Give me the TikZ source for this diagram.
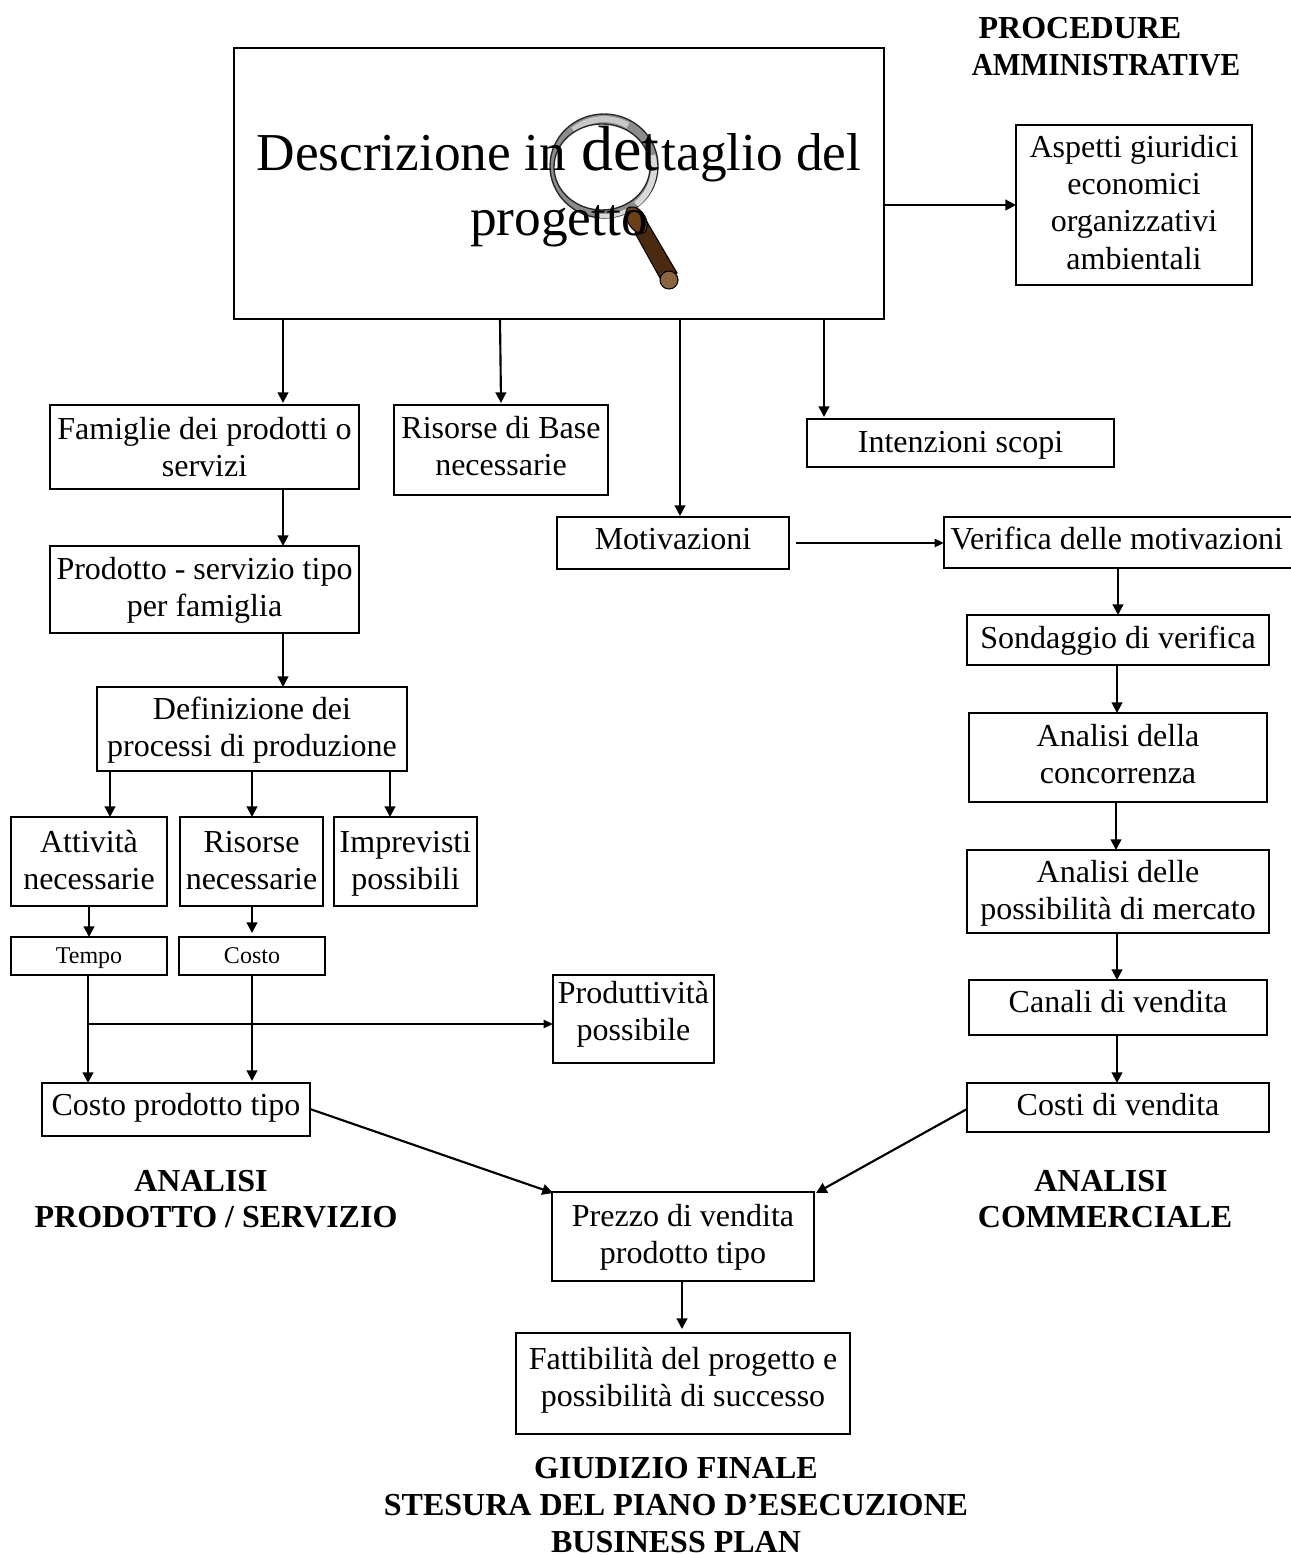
\documentclass[tikz,border=0pt]{standalone}
\usepackage{fontspec}
\setmainfont{Liberation Serif}
\newfontfamily\condbold[FakeStretch=0.917]{Liberation Serif Bold}
\usetikzlibrary{arrows.meta}
\newcommand{\boxtxt}[2]{\raisebox{#1}[0pt][0pt]{$\vcenter{\hbox{\begin{tabular}{@{}c@{}}#2\end{tabular}}}$}}
\newcommand{\mybox}[6]{% name,x0,y0,x1,y1,(dy,text)
  \node[boxnode,minimum width={(#4-#2)*0.75pt},minimum height={(#5-#3)*0.75pt}] (#1) at ({(#2+#4)/2},{(#3+#5)/2}) {#6};}
\definecolor{hdark}{HTML}{4A2A10}
\definecolor{hneck}{HTML}{6B4018}
\definecolor{hcap}{HTML}{8A6540}
\tikzset{
  x=0.75pt,y=-0.75pt,
  boxnode/.style={draw=black,line width=1.5pt,fill=white,inner sep=0pt,outer sep=0pt,font=\fontsize{24}{28}\selectfont},
  heading/.style={inner sep=0pt,align=center,font=\fontsize{24}{27}\selectfont\bfseries},
  conn/.style={draw=black,line width=1.6pt,-{Triangle[length=8pt,width=8pt]}},
  smallconn/.style={draw=black,line width=1.6pt,-{Triangle[length=7pt,width=6pt]}},
  titletext/.style={inner sep=0pt,font=\fontsize{40}{40}\selectfont,anchor=base}
}
\begin{document}
\begin{tikzpicture}
\useasboundingbox (0,0) rectangle (1290,1555);
\mybox{main}{234}{48}{884}{319}{}
\mybox{asp}{1016}{125}{1252}{285}{\boxtxt{-6.75pt}{Aspetti giuridici\\economici\\organizzativi\\ambientali}}
\mybox{fam}{50}{405}{359}{489}{\boxtxt{-9pt}{Famiglie dei prodotti o\\servizi}}
\mybox{base}{394}{405}{608}{495}{\boxtxt{-6pt}{Risorse di Base\\necessarie}}
\mybox{int}{807}{419}{1114}{467}{\boxtxt{-7.5pt}{Intenzioni scopi}}
\mybox{mot}{557}{517}{789}{569}{\boxtxt{-5.25pt}{Motivazioni}}
\mybox{ver}{944}{517}{1300}{568}{\boxtxt{-6pt}{\hspace{-8pt}Verifica delle motivazioni}}
\mybox{pro}{50}{546}{359}{633}{\boxtxt{-6.75pt}{Prodotto - servizio tipo\\per famiglia}}
\mybox{son}{967}{615}{1269}{665}{\boxtxt{-6.75pt}{Sondaggio di verifica}}
\mybox{def}{97}{687}{407}{771}{\boxtxt{-7.5pt}{Definizione dei\\processi di produzione}}
\mybox{con}{969}{713}{1267}{802}{\boxtxt{-6pt}{Analisi della\\concorrenza}}
\mybox{pos}{967}{850}{1269}{933}{\boxtxt{-7.5pt}{Analisi delle\\possibilità di mercato}}
\mybox{att}{11}{817}{167}{906}{\boxtxt{-7.5pt}{Attività\\necessarie}}
\mybox{rne}{180}{817}{323}{906}{\boxtxt{-7.5pt}{Risorse\\necessarie}}
\mybox{imp}{334}{817}{477}{906}{\boxtxt{-7.5pt}{Imprevisti\\possibili}}
\mybox{tem}{11}{937}{167}{975}{\boxtxt{-6pt}{\fontsize{18}{20}\selectfont Tempo}}
\mybox{cos}{179}{937}{325}{975}{\boxtxt{-6pt}{\fontsize{18}{20}\selectfont Costo}}
\mybox{prv}{553}{975}{714}{1063}{\boxtxt{-3pt}{Produttività\\possibile}}
\mybox{can}{969}{980}{1267}{1035}{\boxtxt{-4.5pt}{Canali di vendita}}
\mybox{cpt}{42}{1083}{310}{1136}{\boxtxt{-5.25pt}{Costo prodotto tipo}}
\mybox{cve}{967}{1083}{1269}{1132}{\boxtxt{-6.75pt}{Costi di vendita}}
\mybox{pre}{552}{1192}{814}{1281}{\boxtxt{-6.75pt}{Prezzo di vendita\\prodotto tipo}}
\mybox{fat}{516}{1333}{850}{1434}{\boxtxt{-3.75pt}{Fattibilità del progetto e\\possibilità di successo}}
% lens (under the title text)
\draw[line width=1pt,draw=black!85,fill=black!45] (604,166) ellipse[x radius=54,y radius=52];
\draw[line width=4.5pt,draw=black!15] (604,166) ++(50:50) arc[start angle=50,end angle=-15,x radius=50,y radius=48];
\draw[line width=4.5pt,draw=black!22] (604,167) ++(-60:48) arc[start angle=-60,end angle=-130,x radius=48,y radius=47];
\draw[line width=3pt,draw=black!15] (604,166) ++(95:50) arc[start angle=95,end angle=60,x radius=50,y radius=47];
\draw[line width=1pt,draw=black!85,fill=white] (602,167) ellipse[x radius=48,y radius=43];
% handle
\draw[line width=.8pt,fill=hdark] (635,233) -- (647,222) -- (677,273) -- (660,278) -- cycle;
\draw[line width=.8pt,fill=hneck] (630,207) .. controls (642,205) and (652,224) .. (645,232) .. controls (637,238) and (624,222) .. (626,212) .. controls (626,209) and (628,207) .. (630,207) -- cycle;
\draw[line width=.8pt,fill=hcap] (669,280) circle[radius=9];
% main title
\node[titletext] (t1) at (559,171) {Descrizione in\hspace{1.5pt} \fontsize{48}{48}\selectfont det\fontsize{40}{40}\selectfont\hspace{1.5pt}taglio del};
\node[titletext] (t2) at (559,236) {progetto};
% headings
\node[heading] (h1a) at (1080,28) {PROCEDURE};
\node[heading,font=\fontsize{24}{28}\selectfont\condbold] (h1b) at (1106,65) {AMMINISTRATIVE};
\node[heading] (h2) at (216,1199) {\hspace*{-22.5pt}ANALISI\\PRODOTTO / SERVIZIO};
\node[heading] (h3) at (1105,1199) {\hspace*{-6pt}ANALISI\\COMMERCIALE};
\node[heading,font=\fontsize{24}{28}\selectfont\bfseries] (h4) at (676,1505) {GIUDIZIO FINALE\\STESURA DEL PIANO D’ESECUZIONE\\BUSINESS PLAN};
% coordinates
\coordinate (j) at (89,1024);
\coordinate (m0) at (796,543);
% connectors
\draw[conn] (main.east|-0,205) -- (asp.west|-0,205);
\draw[conn] (283,319) -- (283,403);
\draw[conn] (500,319) -- (501,403);
\draw[conn] (680,319) -- (680,516);
\draw[conn] (824,319) -- (824,417);
\draw[conn] (283,489) -- (283,546);
\draw[conn] (283,633) -- (283,687);
\draw[smallconn] (m0) -- (ver.west|-m0);
\draw[conn] (1118,568) -- (1118,615);
\draw[conn] (1117,665) -- (1117,713);
\draw[conn] (1116,802) -- (1116,850);
\draw[conn] (1117,933) -- (1117,980);
\draw[conn] (1117,1035) -- (1117,1083);
\draw[conn] (110,771) -- (110,817);
\draw[conn] (252,771) -- (252,817);
\draw[conn] (390,771) -- (390,817);
\draw[conn] (89,906) -- (89,937);
\draw[conn] (252,906) -- (252,933);
\draw[conn] (88,975) -- (88,1083);
\draw[conn] (252,975) -- (252,1081);
\draw[smallconn] (j) -- (prv.west|-j);
\draw[conn] (cpt.east|-0,1109) -- (553,1193);
\draw[conn] (cve.west|-0,1109) -- (816,1193);
\draw[conn] (682,1281) -- (682,1329);
\end{tikzpicture}
\end{document}
